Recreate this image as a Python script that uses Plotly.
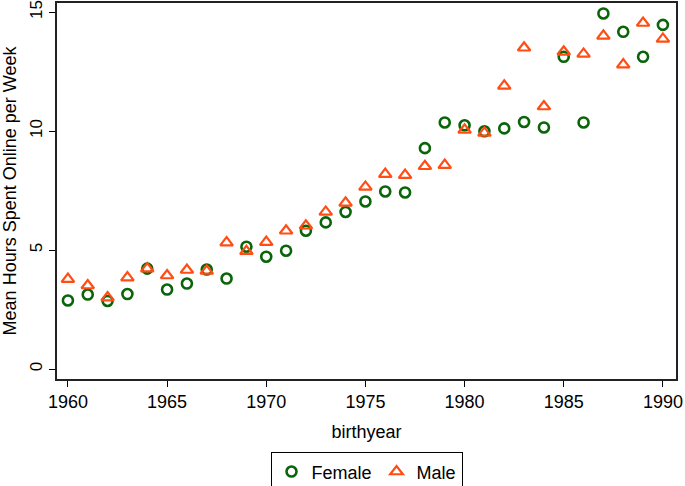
import plotly.graph_objects as go

years = list(range(1960, 1991))
female = [2.88, 3.13, 2.86, 3.15, 4.22, 3.34, 3.59, 4.18, 3.80, 5.14,
          4.72, 4.97, 5.81, 6.16, 6.60, 7.04, 7.46, 7.42, 9.28, 10.36,
          10.24, 9.99, 10.11, 10.38, 10.15, 13.12, 10.36, 14.94, 14.17, 13.12,
          14.46]
male = [3.78, 3.51, 3.00, 3.84, 4.22, 3.93, 4.16, 4.12, 5.31, 4.95,
        5.33, 5.81, 6.02, 6.60, 6.98, 7.65, 8.19, 8.15, 8.52, 8.57,
        10.05, 9.92, 11.90, 13.50, 11.03, 13.33, 13.24, 14.00, 12.79, 14.54,
        13.87]
yticks = [0, 5, 10, 15]
xticks = [1960, 1965, 1970, 1975, 1980, 1985, 1990]

GREEN = "#0a650a"
ORANGE = "#ff4d14"
FONT = "Liberation Sans, Arial, sans-serif"

fig = go.Figure()
fig.add_trace(go.Scatter(
    x=years, y=female, mode="markers", name="Female",
    marker=dict(symbol="circle-open", size=10, color=GREEN,
                line=dict(width=2.6, color=GREEN)),
))
fig.add_trace(go.Scatter(
    x=years, y=male, mode="markers", name="Male",
    marker=dict(symbol="triangle-up-open", size=11, color=ORANGE,
                line=dict(width=2.2, color=ORANGE)),
))

fig.update_layout(
    width=685, height=486,
    margin=dict(l=57, r=9, t=3, b=107, autoexpand=False),
    paper_bgcolor="white", plot_bgcolor="white",
    font=dict(family=FONT, size=18, color="black"),
    showlegend=True,
    legend=dict(orientation="h", x=0.5, xanchor="center", y=-0.195, yanchor="top",
                bordercolor="black", borderwidth=1, font=dict(size=18),
                itemwidth=30, tracegroupgap=0),
    xaxis=dict(
        range=[1959.45, 1990.66], tickvals=xticks, ticks="outside",
        ticklen=6, tickwidth=1, tickcolor="black", automargin=False,
        ticklabeloverflow="allow",
        showline=True, linecolor="#222", linewidth=1.5, mirror=True,
        showgrid=False, zeroline=False,
        title=dict(text="birthyear", font=dict(size=18), standoff=14),
        tickfont=dict(size=18),
    ),
    yaxis=dict(
        range=[-0.42, 15.38], tickvals=yticks, ticks="outside",
        ticklen=6, tickwidth=1, tickcolor="black", tickangle=-90, automargin=False,
        ticklabeloverflow="allow",
        showline=True, linecolor="#222", linewidth=1.5, mirror=True,
        showgrid=False, zeroline=False,
        title=dict(text="Mean Hours Spent Online per Week", font=dict(size=18), standoff=8),
        tickfont=dict(size=17),
    ),
)

fig.write_html("out.html", config={"displayModeBar": False},
               post_script="document.body.style.margin='0';document.body.style.overflow='hidden';")
